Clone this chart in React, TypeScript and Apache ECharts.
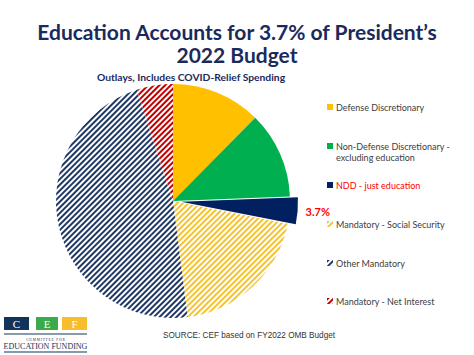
import React, { useEffect, useRef } from "react";
import * as echarts from "echarts";

const categories = [
  "Defense Discretionary",
  "Non-Defense Discretionary - excluding education",
  "NDD - just education",
  "Mandatory - Social Security",
  "Other Mandatory",
  "Mandatory - Net Interest",
];
const shares = [12.4, 12.0, 3.7, 19.9, 47.0, 5.0];
const legendLines = [
  ["Defense Discretionary"],
  ["Non-Defense Discretionary -", "excluding education"],
  ["NDD - just education"],
  ["Mandatory - Social Security"],
  ["Other Mandatory"],
  ["Mandatory - Net Interest"],
];
const legendTops = [107, 146, 185, 224, 263, 301];

const titleText = "Education Accounts for 3.7% of President\u2019s\n2022 Budget";
const subtitleText = "Outlays, Includes COVID-Relief Spending";
const sourceText = "SOURCE: CEF based on FY2022 OMB Budget";

const stripe = (c: string) => ({
  symbol: "rect",
  symbolSize: 1,
  color: c,
  dashArrayX: [1, 0],
  dashArrayY: [1.5, 1.5],
  rotation: -Math.PI / 4,
});

const itemStyles: any[] = [
  { color: "#FFC000" },
  { color: "#00B050" },
  { color: "#002060" },
  { color: "#ffffff", decal: stripe("#F5C330") },
  { color: "#ffffff", decal: stripe("#1F3864") },
  { color: "#ffffff", decal: stripe("#C00000") },
];

export default function App() {
  const ref = useRef<HTMLDivElement>(null);
  useEffect(() => {
    const chart = echarts.init(ref.current!, null, { renderer: "svg" });
    const data = categories.map((name, i) => {
      const d: any = { name, value: shares[i], itemStyle: itemStyles[i] };
      if (i === 2) {
        d.selected = true;
        d.label = {
          show: true,
          position: "outside",
          formatter: "3.7%",
          color: "#FF0000",
          fontWeight: "bold",
          fontSize: 11,
          fontFamily: "Lato",
        };
        d.labelLine = { show: false, length: 3, length2: 0 };
      }
      return d;
    });
    const legends: any[] = [];
    categories.forEach((name, i) => {
      legendLines[i].forEach((line, j) => {
        const lg: any = {
          data: [name],
          left: 327,
          top: legendTops[i] - 6 + j * 11,
          orient: "vertical",
          itemWidth: 6,
          itemHeight: 6,
          itemGap: 0,
          padding: 0,
          selectedMode: false,
          icon: j === 0 ? "rect" : "none",
          formatter: () => line,
          textStyle: {
            fontSize: 9,
            fontFamily: "Lato",
            color: i === 2 ? "#FF0000" : "#404040",
            lineHeight: 12,
            padding: [0, 0, 0, -2],
          },
        };
        if (j > 0) lg.itemStyle = { opacity: 0 };
        legends.push(lg);
      });
    });
    chart.setOption({
      animation: false,
      backgroundColor: "#ffffff",
      title: [
        {
          text: titleText,
          left: "center",
          top: 15,
          textStyle: {
            fontFamily: "Lato",
            fontWeight: "bold",
            fontSize: 21,
            lineHeight: 23,
            color: "#1B2A5C",
          },
        },
        {
          text: subtitleText,
          left: 186,
          textAlign: "center",
          top: 67,
          textStyle: {
            fontFamily: "Lato",
            fontWeight: "bold",
            fontSize: 10.3,
            color: "#1B2A5C",
          },
        },
      ],
      legend: legends,
      series: [
        {
          type: "pie",
          center: [173, 201],
          radius: 117,
          startAngle: 90,
          clockwise: true,
          selectedMode: "single",
          selectedOffset: 8,
          label: { show: false },
          labelLine: { show: false },
          emphasis: { disabled: true },
          itemStyle: { borderWidth: 0 },
          data,
        },
      ],
      graphic: [
        {
          type: "text",
          x: 163,
          y: 335.5,
          style: {
            text: sourceText,
            font: "8.2px 'Liberation Sans'",
            fill: "#333333",
            verticalAlign: "middle",
          },
        },
        { type: "rect", shape: { x: 4, y: 317, width: 25, height: 13 }, style: { fill: "#13345A" } },
        { type: "rect", shape: { x: 36, y: 317, width: 22, height: 13 }, style: { fill: "#3BAA4A" } },
        { type: "rect", shape: { x: 62, y: 317, width: 25, height: 13 }, style: { fill: "#F7BD2A" } },
        { type: "text", x: 16.5, y: 324, style: { text: "C", font: "11px 'Liberation Serif'", fill: "#fff", align: "center", verticalAlign: "middle" } },
        { type: "text", x: 47, y: 324, style: { text: "E", font: "11px 'Liberation Serif'", fill: "#fff", align: "center", verticalAlign: "middle" } },
        { type: "text", x: 74.5, y: 324, style: { text: "F", font: "11px 'Liberation Serif'", fill: "#fff", align: "center", verticalAlign: "middle" } },
        { type: "line", shape: { x1: 4, y1: 334, x2: 87, y2: 334 }, style: { stroke: "#13345A", lineWidth: 1.2 } },
        { type: "text", x: 45.5, y: 339.5, style: { text: "C O M M I T T E E   F O R", font: "3.5px 'Liberation Serif'", fill: "#13345A", align: "center", verticalAlign: "middle" } },
        { type: "text", x: 45.5, y: 346.5, style: { text: "EDUCATION FUNDING", font: "8px 'Liberation Serif'", fill: "#13345A", align: "center", verticalAlign: "middle" } },
        { type: "line", shape: { x1: 4, y1: 352, x2: 87, y2: 352 }, style: { stroke: "#13345A", lineWidth: 1.2 } },
      ],
    });
    return () => chart.dispose();
  }, []);
  return (
    <div
      ref={ref}
      style={{ position: "fixed", left: 0, top: 0, width: 474, height: 355 }}
    />
  );
}
